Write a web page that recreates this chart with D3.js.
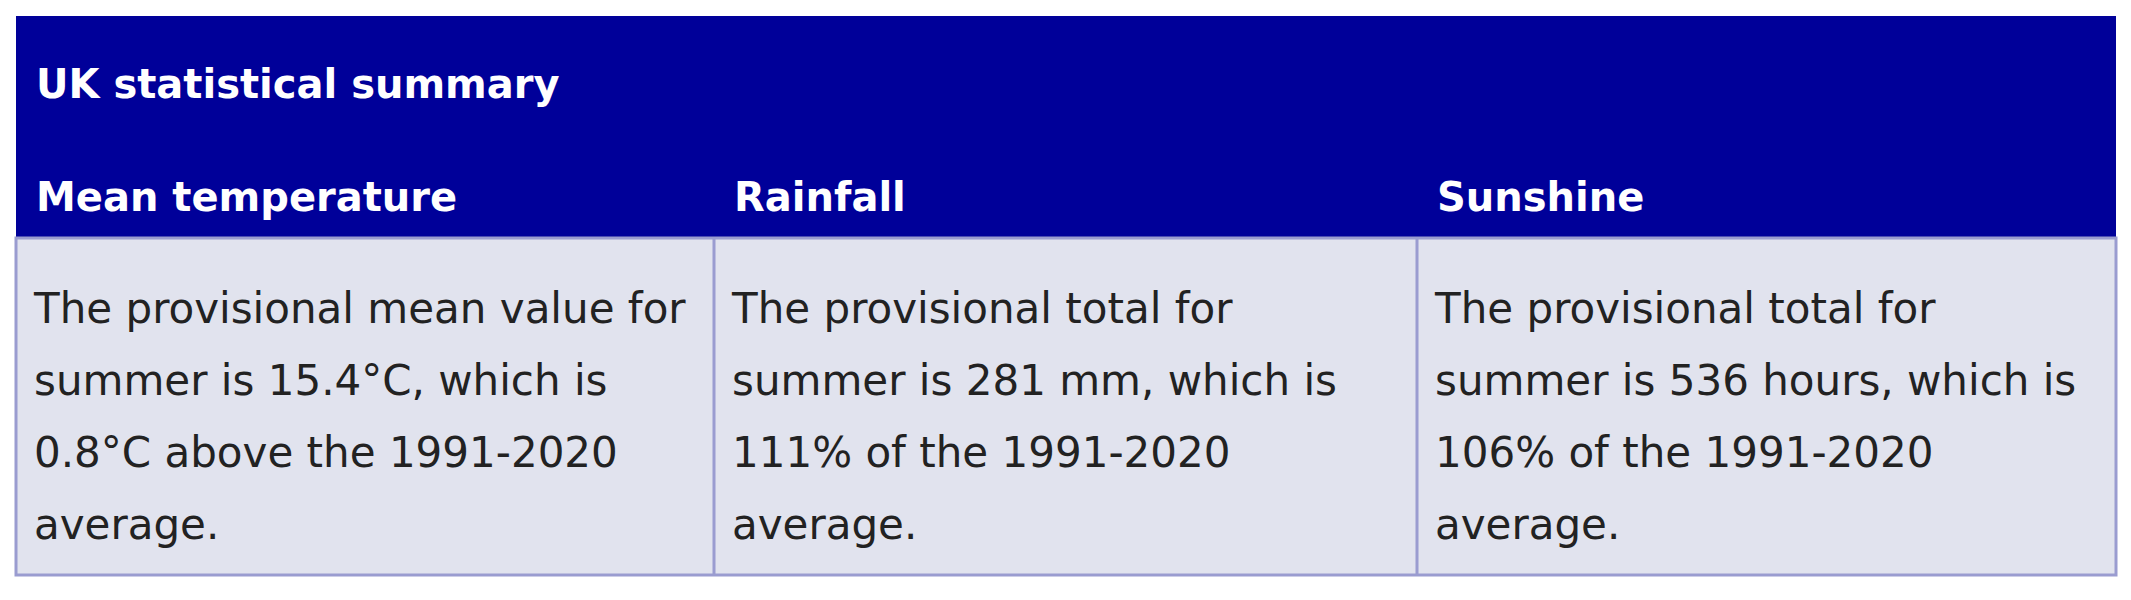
<!DOCTYPE html>
<html><head><meta charset="utf-8">
<script src="https://cdn.jsdelivr.net/npm/d3@7"></script>
<style>body{margin:0;background:#fff}</style>
</head><body>
<script>
var title = "UK statistical summary";
var columns = ["Mean temperature", "Rainfall", "Sunshine"];
var cellLines = [
    ["The provisional mean value for", "summer is 15.4°C, which is", "0.8°C above the 1991-2020", "average."],
    ["The provisional total for", "summer is 281 mm, which is", "111% of the 1991-2020", "average."],
    ["The provisional total for", "summer is 536 hours, which is", "106% of the 1991-2020", "average."]
];

var width = 2131, height = 600;
var svg = d3.select("body").append("svg").attr("width", width).attr("height", height);

var left = 16, right = 2116, tableTop = 16, headBottom = 238, bottom = 575;
var colX = [left, 714, 1417, right];

//header block
svg.append("rect").attr("x", left).attr("y", tableTop).attr("width", right - left).attr("height", headBottom - tableTop).attr("fill", "#000099");
svg.append("text").attr("x", left + 20).attr("y", 98).text(title)
    .attr("fill", "#fff").attr("font-family", "DejaVu Sans").attr("font-weight", "bold").attr("font-size", 40);

//body block
svg.append("rect").attr("x", left).attr("y", headBottom).attr("width", right - left).attr("height", bottom - headBottom)
    .attr("fill", "#e1e3ee").attr("stroke", "#9a9cd0").attr("stroke-width", 3);

columns.forEach(function(c, i){
    svg.append("text").attr("x", colX[i] + 20).attr("y", 211).text(c)
        .attr("fill", "#fff").attr("font-family", "DejaVu Sans").attr("font-weight", "bold").attr("font-size", 40);
    if (i > 0) {
        svg.append("line").attr("x1", colX[i]).attr("x2", colX[i]).attr("y1", headBottom).attr("y2", bottom)
            .attr("stroke", "#9a9cd0").attr("stroke-width", 3);
    }
    cellLines[i].forEach(function(t, j){
        svg.append("text").attr("x", colX[i] + 18).attr("y", 323 + j * 72).text(t)
            .attr("fill", "#222").attr("font-family", "DejaVu Sans").attr("font-size", 42);
    });
});
</script>
</body></html>
